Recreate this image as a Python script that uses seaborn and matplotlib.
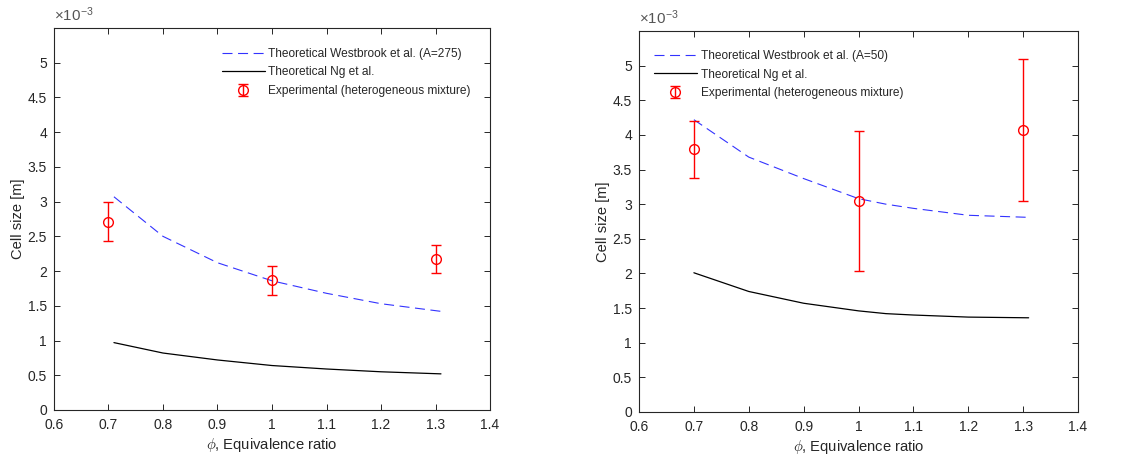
import numpy as np
import pandas as pd
import seaborn as sns
import matplotlib
matplotlib.use("Agg")
import matplotlib.pyplot as plt
from matplotlib.ticker import FuncFormatter, MultipleLocator, FixedLocator

sns.set_theme(style="white")
plt.rcParams['font.family'] = ['Liberation Sans', 'DejaVu Sans']
plt.rcParams['mathtext.fontset'] = 'cm'

# ---- data (cell size in metres) ----
phi_theory_left = [0.71, 0.8, 0.9, 1.0, 1.1, 1.2, 1.31]
westbrook_left = [3.07e-3, 2.50e-3, 2.12e-3, 1.86e-3, 1.68e-3, 1.53e-3, 1.42e-3]
ng_left = [0.97e-3, 0.82e-3, 0.72e-3, 0.64e-3, 0.59e-3, 0.55e-3, 0.52e-3]

phi_theory_right = [0.7, 0.8, 0.9, 1.0, 1.05, 1.1, 1.2, 1.31]
westbrook_right = [4.22e-3, 3.68e-3, 3.37e-3, 3.08e-3, 3.00e-3, 2.94e-3, 2.84e-3, 2.81e-3]
ng_right = [2.01e-3, 1.74e-3, 1.57e-3, 1.46e-3, 1.42e-3, 1.40e-3, 1.37e-3, 1.36e-3]

phi_exp = [0.7, 1.0, 1.3]
exp_left = [2.71e-3, 1.87e-3, 2.17e-3]
exp_left_lo = [2.44e-3, 1.66e-3, 1.97e-3]
exp_left_hi = [2.99e-3, 2.07e-3, 2.37e-3]
exp_right = [3.79e-3, 3.05e-3, 4.07e-3]
exp_right_lo = [3.38e-3, 2.03e-3, 3.04e-3]
exp_right_hi = [4.20e-3, 4.06e-3, 5.09e-3]

y_ticks = [0, 0.5e-3, 1e-3, 1.5e-3, 2e-3, 2.5e-3, 3e-3, 3.5e-3, 4e-3, 4.5e-3, 5e-3]

labels_left = ["Theoretical Westbrook et al. (A=275)", "Theoretical Ng et al.",
               "Experimental (heterogeneous mixture)"]
labels_right = ["Theoretical Westbrook et al. (A=50)", "Theoretical Ng et al.",
                "Experimental (heterogeneous mixture)"]

TXT = '#262626'
FS = 8.6

fig = plt.figure(figsize=(11.46, 4.59), dpi=100)
ax1 = fig.add_axes([0.0471, 0.1068, 0.3805, 0.8322])
ax2 = fig.add_axes([0.5576, 0.1024, 0.3831, 0.8300])


def draw(ax, phi_t, wb, ng, exp, lo, hi, labels, leg_anchor):
    df = pd.DataFrame({"phi": phi_t, "wb": wb, "ng": ng})
    sns.lineplot(data=df, x="phi", y="wb", ax=ax, color=(0.2, 0.2, 1.0),
                 linewidth=0.8, dashes=False, label=labels[0])
    ax.lines[-1].set_dashes([9, 5])
    sns.lineplot(data=df, x="phi", y="ng", ax=ax, color='black',
                 linewidth=0.9, label=labels[1])
    e = np.array(exp)
    yerr = np.vstack([e - np.array(lo), np.array(hi) - e])
    ax.errorbar(phi_exp, exp, yerr=yerr, fmt='o', mfc='none', mec='red',
                ecolor='red', color='red', markersize=7, capsize=3.5,
                elinewidth=1.0, capthick=1.0, label=labels[2])
    ax.set_xlim(0.6, 1.4)
    ax.set_ylim(0, 5.5e-3)
    ax.xaxis.set_major_locator(MultipleLocator(0.1))
    ax.yaxis.set_major_locator(FixedLocator(y_ticks))
    ax.xaxis.set_major_formatter(FuncFormatter(lambda v, p: f"{v:g}"))
    ax.yaxis.set_major_formatter(FuncFormatter(lambda v, p: f"{round(v*1e3, 3):g}"))
    ax.tick_params(direction='in', length=4, width=0.7, top=True, right=True,
                   bottom=True, left=True, labelsize=FS + 1.4, colors=TXT,
                   labelcolor=TXT)
    ax.tick_params(axis='x', pad=6)
    ax.tick_params(axis='y', pad=5)
    for s in ax.spines.values():
        s.set_color(TXT)
        s.set_linewidth(0.8)
        s.set_visible(True)
    ax.set_xlabel(r"$\phi$, Equivalence ratio", fontsize=FS + 2, color=TXT, labelpad=3)
    ax.set_ylabel("Cell size [m]", fontsize=FS + 2, color=TXT, labelpad=2)
    ax.text(0.0, 1.01, r"×10$^{\mathregular{-3}}$", transform=ax.transAxes,
            fontsize=FS + 2.2, color='#555555', ha='left', va='bottom')
    h, l = ax.get_legend_handles_labels()
    ax.legend(h, l, loc='upper left', bbox_to_anchor=leg_anchor, frameon=False,
              fontsize=FS, handlelength=3.6, handletextpad=0.3,
              borderpad=0, borderaxespad=0, labelspacing=0.55)


draw(ax1, phi_theory_left, westbrook_left, ng_left, exp_left, exp_left_lo,
     exp_left_hi, labels_left, (0.385, 0.948))
draw(ax2, phi_theory_right, westbrook_right, ng_right, exp_right, exp_right_lo,
     exp_right_hi, labels_right, (0.034, 0.95))

fig.savefig("out.png", dpi=100)
